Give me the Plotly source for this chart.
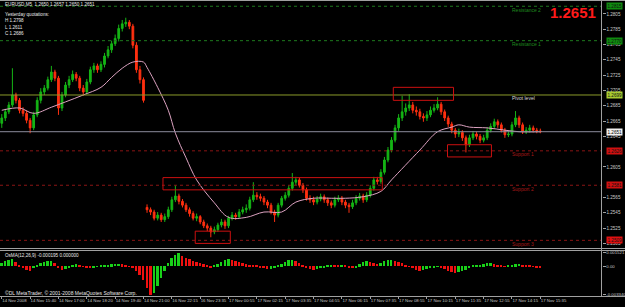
import plotly.graph_objects as go

# ---------------- data (prices stored as points above BASE) ----------------
BASE = 1.25
POINT = 0.0001

open_pts = [162, 169, 177, 186, 199, 192, 179, 175, 166, 156, 173, 192, 203, 208, 219, 229, 221, 182, 199, 212,
            219, 226, 221, 208, 203, 216, 232, 237, 232, 239, 250, 258, 266, 273, 286, 292, 294, 289, 264, 232, 219,
            52, 49, 46, 38, 42, 36, 40, 49, 62, 67, 60, 55, 49, 44, 38, 40, 33, 28, 25, 20, 23, 29, 33, 28, 38,
            42, 40, 46, 49, 51, 62, 68, 66, 64, 59, 55, 46, 42, 55, 64, 68, 77, 85, 88, 81, 75, 64, 62, 59, 63,
            66, 62, 58, 55, 62, 64, 59, 55, 53, 58, 64, 67, 62, 68, 77, 88, 86, 98, 114, 127, 140, 156, 169, 177,
            182, 186, 179, 177, 171, 169, 173, 179, 182, 187, 177, 169, 161, 153, 148, 150, 143, 134, 143, 148, 145,
            140, 143, 153, 158, 164, 160, 153, 147, 148, 160, 169, 160, 151, 153, 156, 153, 152]
high_pts = [174, 181, 190, 234, 202, 195, 183, 179, 169, 177, 196, 208, 212, 223, 237, 232, 224, 203, 216, 224,
            231, 229, 224, 212, 220, 236, 241, 240, 243, 254, 263, 270, 278, 291, 297, 300, 297, 292, 268, 237, 222,
            56, 52, 49, 46, 45, 44, 53, 66, 81, 70, 63, 58, 52, 47, 44, 42, 36, 31, 28, 27, 32, 37, 36, 41, 46,
            45, 50, 53, 56, 66, 85, 72, 70, 67, 62, 58, 49, 58, 67, 72, 81, 97, 92, 91, 84, 78, 68, 66, 67, 70,
            69, 65, 61, 66, 68, 67, 62, 58, 62, 68, 71, 70, 72, 81, 92, 92, 102, 118, 131, 144, 160, 174, 198, 188,
            200, 190, 184, 181, 175, 178, 184, 187, 196, 190, 180, 172, 164, 156, 155, 153, 146, 147, 152, 151, 148,
            147, 157, 162, 168, 167, 163, 156, 152, 164, 178, 172, 163, 157, 160, 159, 156, 155]
low_pts = [156, 165, 174, 183, 188, 175, 171, 162, 149, 153, 170, 188, 199, 205, 216, 217, 173, 178, 196, 208,
           216, 217, 204, 198, 200, 213, 228, 228, 229, 235, 247, 254, 263, 269, 282, 288, 285, 260, 228, 214, 189,
           45, 42, 35, 35, 33, 33, 37, 46, 59, 56, 52, 46, 40, 35, 34, 30, 25, 21, 13, 17, 20, 26, 24, 25, 35,
           36, 37, 43, 45, 48, 59, 62, 60, 55, 51, 43, 33, 39, 52, 61, 65, 74, 81, 78, 71, 61, 58, 55, 56, 60,
           58, 54, 51, 52, 59, 55, 51, 45, 50, 55, 61, 58, 59, 65, 74, 82, 83, 95, 111, 124, 137, 152, 165, 172,
           178, 175, 172, 167, 164, 165, 170, 176, 179, 173, 165, 157, 149, 143, 144, 139, 124, 131, 140, 141, 136,
           137, 140, 150, 155, 156, 150, 143, 144, 145, 157, 156, 148, 148, 150, 150, 149, 149]
close_pts = [169, 177, 186, 199, 192, 179, 175, 166, 156, 173, 192, 203, 208, 219, 229, 221, 182, 199, 212, 219,
             226, 221, 208, 203, 216, 232, 237, 232, 239, 250, 258, 266, 273, 286, 292, 294, 289, 264, 232, 219, 192,
             49, 46, 38, 42, 36, 40, 49, 62, 67, 60, 55, 49, 44, 38, 40, 33, 28, 25, 20, 23, 29, 33, 28, 38, 42,
             40, 46, 49, 51, 62, 68, 66, 64, 59, 55, 46, 42, 55, 64, 68, 77, 85, 88, 81, 75, 64, 62, 59, 63, 66,
             62, 58, 55, 62, 64, 59, 55, 53, 58, 64, 67, 62, 68, 77, 88, 86, 98, 114, 127, 140, 156, 169, 177, 182,
             186, 179, 177, 171, 169, 173, 179, 182, 187, 177, 169, 161, 153, 148, 150, 143, 134, 143, 148, 145, 140,
             143, 153, 158, 164, 160, 153, 147, 148, 160, 169, 160, 151, 153, 156, 153, 152, 151]

# moving average read at sample bars
ma_bar = [0, 5, 9, 14, 18, 23, 28, 31, 34, 37, 40, 41, 44, 47, 49, 52, 55, 60, 64, 69, 74, 79, 83, 88, 93, 97,
          102, 107, 110, 118, 123, 127, 129, 132, 137, 142, 146, 152]
ma_pts = [179, 182, 175, 183, 190, 199, 209, 222, 234, 242, 242, 235, 209, 179, 149, 117, 88, 58, 39, 39, 46, 46,
          59, 64, 64, 64, 66, 73, 88, 127, 151, 157, 160, 157, 156, 153, 151, 151]

osma = [0.00035, 0.00058, 0.00070, 0.00081, 0.00046, 0.00012, -0.00023, -0.00046, -0.00058, -0.00023,
        0.00012, 0.00035, 0.00046, 0.00058, 0.00060, 0.00035, -0.00012, -0.00046, -0.00035, -0.00012,
        0.00012, 0.00023, 0.00012, -0.00010, -0.00012, -0.00023, -0.00014, -0.00008, 0.00002, 0.00010,
        0.00014, 0.00020, 0.00024, 0.00025, 0.00022, 0.00012, -0.00002, -0.00023, -0.00058, -0.00104,
        -0.00162, -0.00255, -0.00334, -0.00313, -0.00232, -0.00139, -0.00058, 0.00035, 0.00093, 0.00128,
        0.00152, 0.00116, 0.00093, 0.00081, 0.00058, 0.00046, 0.00035, 0.00023, 0.00012, -0.00012,
        0.00003, 0.00023, 0.00046, 0.00070, 0.00081, 0.00070, 0.00058, 0.00046, 0.00035, 0.00023,
        0.00014, 0.00010, 0.00002, -0.00012, -0.00023, -0.00035, -0.00033, -0.00023, 0.00003, 0.00023,
        0.00046, 0.00070, 0.00072, 0.00058, 0.00035, 0.00012, -0.00012, -0.00035, -0.00046, -0.00035,
        -0.00023, -0.00012, 0.00002, 0.00012, 0.00005, 0.00004, 0.00010, 0.00003, -0.00012, -0.00023,
        -0.00012, 0.00023, 0.00046, 0.00058, 0.00046, 0.00035, 0.00028, 0.00035, 0.00058, 0.00070,
        0.00072, 0.00058, 0.00046, 0.00035, 0.00012, -0.00002, -0.00023, -0.00046, -0.00058, -0.00046,
        -0.00035, -0.00023, -0.00012, -0.00010, -0.00023, -0.00035, -0.00058, -0.00070, -0.00081, -0.00070,
        -0.00058, -0.00046, -0.00023, 0.00002, 0.00012, 0.00014, 0.00023, 0.00035, 0.00037, 0.00023,
        0.00012, 0.00002, -0.00010, 0.00003, 0.00012, 0.00023, 0.00025, 0.00014, 0.00010, 0.00002,
        -0.00010, -0.00016, -0.000195]

level_names = ["Resistance 2", "Resistance 1", "Pivot level", "Support 1", "Support 2", "Support 3"]
level_values = [1.2815, 1.2770, 1.2699, 1.2626, 1.2581, 1.2509]
last_price = 1.2651

# highlighted zones: (start bar, end bar, low, high)
zone_start = [45.5, 54.6, 110.5, 125.8]
zone_end = [107.4, 64.5, 127.5, 138.2]
zone_low = [1.2575, 1.2505, 1.2692, 1.2618]
zone_high = [1.2591, 1.2521, 1.2709, 1.2634]

price_ticks = [1.2805, 1.2785, 1.2765, 1.2745, 1.2725, 1.2705, 1.2685, 1.2665, 1.2645,
               1.2605, 1.2565, 1.2545, 1.2525, 1.2505]
time_labels = ["14 Nov 2008", "14 Nov 15:40", "14 Nov 17:00", "14 Nov 18:20", "14 Nov 19:40", "14 Nov 21:00",
               "16 Nov 22:15", "16 Nov 23:35", "17 Nov 00:55", "17 Nov 02:15", "17 Nov 03:35", "17 Nov 04:55",
               "17 Nov 06:15", "17 Nov 07:35", "17 Nov 08:55", "17 Nov 10:15", "17 Nov 11:35", "17 Nov 12:55",
               "17 Nov 14:15", "17 Nov 15:35"]
osma_ticks = [0.001521, 0.0, -0.00334]
osma_ticktext = ["0.001521", "0.00", "-0.003340"]

# ---------------- build ----------------
def px(v):
    return BASE + v * POINT

n = len(close_pts)
bars = list(range(n))
W, H = 625, 307
XR = 601.5 / W
FONT = "Liberation Sans"
TXT = "#c8c8c8"
FS = 4.6

fig = go.Figure()
fig.add_trace(go.Candlestick(
    x=bars, open=[px(v) for v in open_pts], high=[px(v) for v in high_pts],
    low=[px(v) for v in low_pts], close=[px(v) for v in close_pts],
    increasing=dict(line=dict(color="#15b415", width=1), fillcolor="#15b415"),
    decreasing=dict(line=dict(color="#ff3010", width=1), fillcolor="#ff3010"),
    whiskerwidth=0, xaxis="x", yaxis="y", hoverinfo="skip"))
fig.add_trace(go.Scatter(x=ma_bar, y=[px(v) for v in ma_pts], mode="lines",
                         line=dict(color="#dca2c0", width=1, shape="spline", smoothing=1.0),
                         xaxis="x", yaxis="y", hoverinfo="skip"))
bar_colors = ["#19d019" if (i == 0 or osma[i] >= osma[i - 1]) else "#f01010" for i in range(n)]
fig.add_trace(go.Bar(x=bars, y=osma, marker=dict(color=bar_colors, line=dict(width=0)),
                     xaxis="x2", yaxis="y2", hoverinfo="skip", width=0.55))

level_line = ["#1e7a1e", "#1e7a1e", "#8a9a2a", "#8a1414", "#8a1414", "#8a1414"]
level_dash = ["dot", "dot", "solid", "dot", "dot", "dot"]
level_text = ["#1f8a1f", "#1f8a1f", "#d8d8d8", "#a81818", "#a81818", "#a81818"]
level_box = ["#0f8a0f", "#0f8a0f", "#a8cc30", "#d01010", "#d01010", "#e01010"]

shapes = []
annotations = []
for name, val, lc, ld, tc, bc in zip(level_names, level_values, level_line, level_dash, level_text, level_box):
    shapes.append(dict(type="line", xref="paper", yref="y", x0=0, x1=XR, y0=val, y1=val,
                       line=dict(color=lc, width=1, dash=ld)))
    annotations.append(dict(xref="paper", yref="y", x=510 / W, y=val, yshift=-3.5, text=name, showarrow=False,
                            xanchor="left", yanchor="middle", font=dict(size=5, color=tc, family=FONT)))
    annotations.append(dict(xref="paper", yref="y", x=606 / W, y=val, text=f"{val:.4f}", showarrow=False,
                            xanchor="left", yanchor="middle", bgcolor=bc, borderpad=0.5,
                            font=dict(size=FS, color="#101010", family=FONT)))
# current price line
shapes.append(dict(type="line", xref="paper", yref="y", x0=0, x1=XR, y0=last_price, y1=last_price,
                   line=dict(color="#8c8c9c", width=1)))
annotations.append(dict(xref="paper", yref="y", x=606 / W, y=last_price, text=f"{last_price:.4f}",
                        showarrow=False, xanchor="left", yanchor="middle", bgcolor="#f0f0f0", borderpad=0.5,
                        font=dict(size=FS, color="#000000", family=FONT)))
# zones
for x0, x1, y0, y1 in zip(zone_start, zone_end, zone_low, zone_high):
    shapes.append(dict(type="rect", xref="x", yref="y", x0=x0, x1=x1, y0=y0, y1=y1,
                       line=dict(color="#cc1010", width=1)))
# frame lines
for yp in [0.5, 248.5, 250.5, 296.5]:
    shapes.append(dict(type="line", xref="paper", yref="paper", x0=0, x1=1, y0=1 - yp / H, y1=1 - yp / H,
                       line=dict(color="#a0a0a0", width=1)))
shapes.append(dict(type="line", xref="paper", yref="paper", x0=XR, x1=XR, y0=1 - 296.5 / H, y1=1,
                   line=dict(color="#a0a0a0", width=1)))

# texts
annotations.append(dict(xref="paper", yref="paper", x=598 / W, y=1 - 12 / H, text="<b>1.2651</b>",
                        showarrow=False, xanchor="right", yanchor="middle",
                        font=dict(size=15, color="#ff1a1a", family="Liberation Sans")))
top_texts = ["EURUSD,M5  1.2650 1.2657 1.2650 1.2651", "Yesterday quotations:", "H 1.2798", "L 1.2611", "C 1.2686"]
top_y = [4, 14, 20.5, 27, 33.5]
for t, yy in zip(top_texts, top_y):
    annotations.append(dict(xref="paper", yref="paper", x=3 / W, y=1 - yy / H, text=t, showarrow=False,
                            xanchor="left", yanchor="middle", font=dict(size=FS, color="#e8e8e8", family=FONT)))
annotations.append(dict(xref="paper", yref="paper", x=3 / W, y=1 - 255 / H, text="OsMA(12,26,9) -0.000195 0.000000",
                        showarrow=False, xanchor="left", yanchor="middle",
                        font=dict(size=FS, color="#e8e8e8", family=FONT)))
annotations.append(dict(xref="paper", yref="paper", x=3 / W, y=1 - 293 / H,
                        text="©DL MetaTrader, © 2001-2008 MetaQuotes Software Corp.",
                        showarrow=False, xanchor="left", yanchor="middle",
                        font=dict(size=5, color="#e8e8e8", family=FONT)))

xrange = [-0.5, (601 - 1.8) / 3.54]
ymin = 1.2665 - (248 - 121) / 7650
ymax = 1.2665 + (121 - 2) / 7650

fig.update_layout(
    width=W, height=H, margin=dict(l=0, r=0, t=0, b=0, autoexpand=False),
    paper_bgcolor="#000000", plot_bgcolor="#000000", showlegend=False, bargap=0,
    shapes=shapes, annotations=annotations,
    xaxis=dict(domain=[0, XR], range=xrange, showticklabels=False, showgrid=False, zeroline=False,
               rangeslider=dict(visible=False), anchor="y", matches="x2", automargin=False),
    xaxis2=dict(domain=[0, XR], range=xrange, showgrid=False, zeroline=False, anchor="y2", automargin=False,
                tickvals=[8 * k for k in range(len(time_labels))], ticktext=time_labels, tickangle=0,
                ticks="outside", ticklen=2, tickcolor="#a0a0a0", ticklabelposition="outside right",
                tickfont=dict(size=4.3, color=TXT, family=FONT)),
    yaxis=dict(domain=[1 - 248 / H, 1 - 2 / H], range=[ymin, ymax], side="right", anchor="x", automargin=False,
               showgrid=False, zeroline=False, tickvals=price_ticks, ticktext=[f"{v:.4f}" for v in price_ticks],
               ticks="outside", ticklen=3, tickcolor="#a0a0a0", tickfont=dict(size=FS, color=TXT, family=FONT)),
    yaxis2=dict(domain=[1 - 296 / H, 1 - 251 / H], range=[-0.00346, 0.00175], side="right", anchor="x2",
                automargin=False, showgrid=False, zeroline=False, tickvals=osma_ticks, ticktext=osma_ticktext,
                ticks="outside", ticklen=3, tickcolor="#a0a0a0", tickfont=dict(size=4.3, color=TXT, family=FONT)),
)

fig.write_html("out.html")
